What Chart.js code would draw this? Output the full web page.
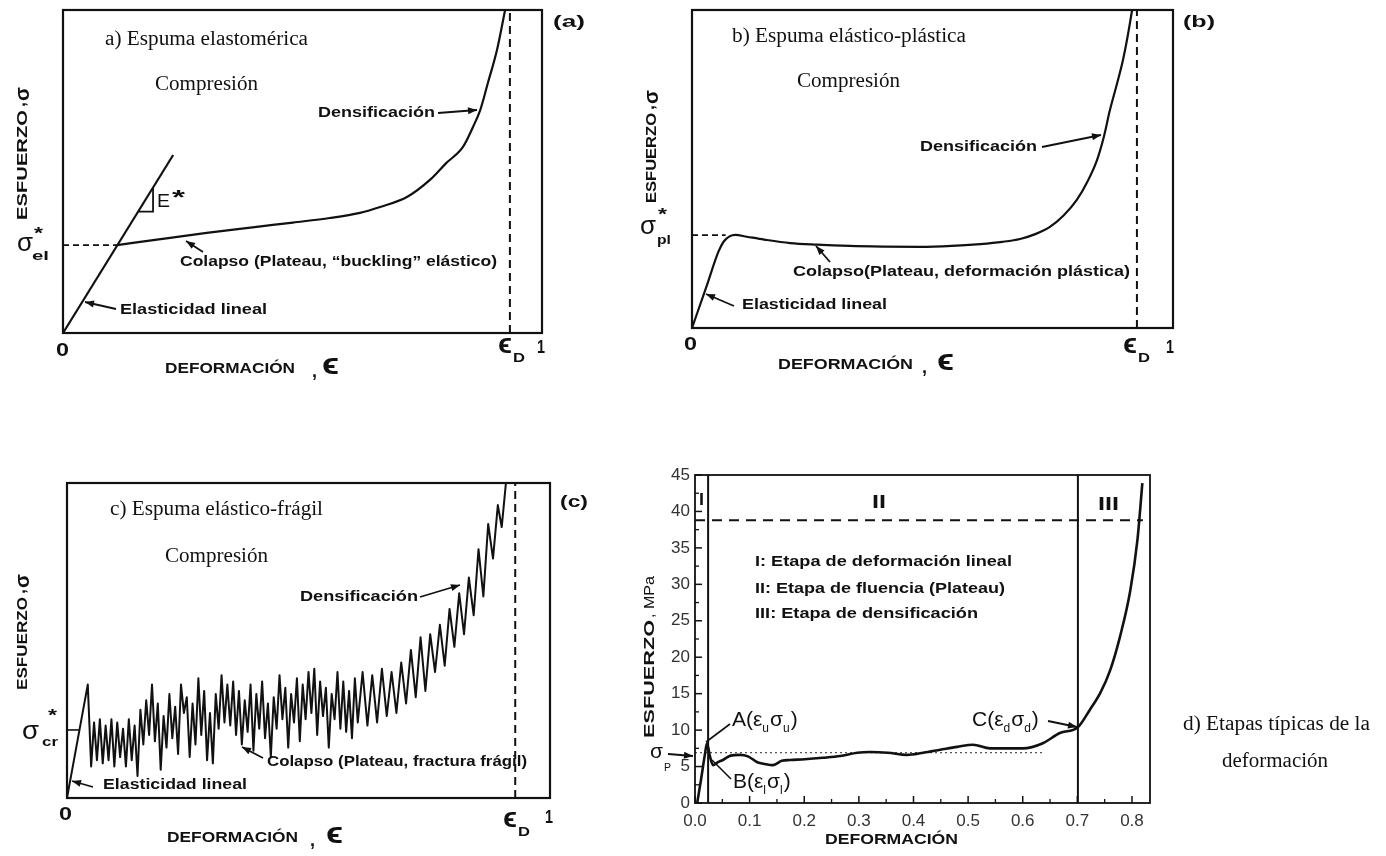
<!DOCTYPE html>
<html lang="es">
<head>
<meta charset="utf-8">
<title>Curvas esfuerzo-deformación de espumas</title>
<script src="https://cdn.jsdelivr.net/npm/chart.js@4.4.0/dist/chart.umd.min.js"></script>
<style>
    body { margin: 0; background: #fff; width: 1386px; height: 856px; position: relative; overflow: hidden; }
    canvas { position: absolute; }
</style>
</head>
<body>
<canvas id="graficoA" width="610" height="400" style="left:0;top:0"></canvas>
<canvas id="graficoB" width="620" height="400" style="left:620px;top:0"></canvas>
<canvas id="graficoC" width="610" height="426" style="left:0;top:430px"></canvas>
<canvas id="graficoD" width="766" height="416" style="left:620px;top:440px"></canvas>
<script>
// a) espuma elastomérica (ejes esquemáticos 0..1)
const aElasticaX = [0, 0.23];
const aElasticaY = [0, 0.551];
const aColapsoX = [0.113, 0.20, 0.30, 0.40, 0.48, 0.557, 0.62, 0.662, 0.718, 0.766, 0.80, 0.835, 0.856, 0.871, 0.887, 0.906, 0.923];
const aColapsoY = [0.272, 0.29, 0.31, 0.328, 0.342, 0.356, 0.372, 0.39, 0.421, 0.474, 0.526, 0.576, 0.638, 0.69, 0.774, 0.876, 1.0];
const aTrianguloX = [0.157, 0.188, 0.188];
const aTrianguloY = [0.376, 0.376, 0.45];
const aSigmaEl = 0.272;
const aEpsD = 0.933;

// b) espuma elástico-plástica
const bCurvaX = [0, 0.030, 0.055, 0.066, 0.078, 0.090, 0.114, 0.150, 0.204, 0.260, 0.328, 0.400, 0.474, 0.540, 0.599, 0.645, 0.682, 0.715, 0.744, 0.772, 0.800, 0.822, 0.842, 0.856, 0.869, 0.883, 0.896, 0.906, 0.915];
const bCurvaY = [0, 0.13, 0.24, 0.272, 0.288, 0.293, 0.287, 0.278, 0.267, 0.262, 0.258, 0.256, 0.255, 0.258, 0.264, 0.271, 0.280, 0.296, 0.318, 0.353, 0.403, 0.46, 0.528, 0.60, 0.686, 0.765, 0.843, 0.92, 1.0];
const bSigmaPl = 0.292;
const bFinDiscontinua = 0.07;
const bEpsD = 0.925;

// c) espuma elástico-frágil
const cCurvaX = [0, 0.043, 0.050, 0.056, 0.062, 0.068, 0.074, 0.080, 0.086, 0.092, 0.098, 0.104, 0.110, 0.116, 0.122, 0.128, 0.134, 0.140,
    0.146, 0.152, 0.158, 0.164, 0.170, 0.176, 0.182, 0.188, 0.194, 0.200, 0.206, 0.212, 0.218, 0.224, 0.230, 0.236, 0.242, 0.248,
    0.254, 0.260, 0.266, 0.272, 0.278, 0.284, 0.290, 0.296, 0.302, 0.308, 0.314, 0.320, 0.326, 0.332, 0.338, 0.344, 0.350, 0.356,
    0.362, 0.368, 0.374, 0.380, 0.386, 0.392, 0.398, 0.404, 0.410, 0.416, 0.422, 0.428, 0.434, 0.440, 0.446, 0.452, 0.458, 0.464,
    0.470, 0.476, 0.482, 0.488, 0.494, 0.500, 0.506, 0.512, 0.518, 0.524, 0.530, 0.536, 0.542, 0.548, 0.554, 0.560, 0.566, 0.572,
    0.578, 0.584, 0.590, 0.596, 0.602, 0.612, 0.622, 0.632, 0.642, 0.652, 0.662, 0.672, 0.682, 0.692, 0.702, 0.712, 0.722, 0.732,
    0.742, 0.752, 0.762, 0.772, 0.782, 0.792, 0.802, 0.812, 0.822, 0.832, 0.842, 0.852, 0.862, 0.872, 0.882, 0.892, 0.900, 0.910];
const cCurvaY = [0, 0.36, 0.10, 0.24, 0.12, 0.25, 0.11, 0.23, 0.12, 0.25, 0.10, 0.24, 0.13, 0.22, 0.10, 0.25, 0.12, 0.23,
    0.07, 0.28, 0.17, 0.31, 0.20, 0.36, 0.18, 0.30, 0.09, 0.26, 0.16, 0.33, 0.19, 0.29, 0.14, 0.36, 0.27, 0.32,
    0.13, 0.30, 0.17, 0.38, 0.20, 0.34, 0.12, 0.27, 0.11, 0.33, 0.22, 0.39, 0.24, 0.36, 0.23, 0.37, 0.20, 0.34,
    0.17, 0.31, 0.21, 0.36, 0.15, 0.33, 0.22, 0.37, 0.19, 0.30, 0.13, 0.32, 0.22, 0.39, 0.25, 0.35, 0.16, 0.33,
    0.24, 0.38, 0.18, 0.36, 0.25, 0.40, 0.27, 0.41, 0.20, 0.37, 0.26, 0.35, 0.16, 0.33, 0.25, 0.40, 0.22, 0.37,
    0.21, 0.34, 0.19, 0.38, 0.24, 0.40, 0.23, 0.39, 0.24, 0.41, 0.26, 0.40, 0.27, 0.43, 0.30, 0.47, 0.32, 0.51,
    0.34, 0.52, 0.40, 0.55, 0.42, 0.60, 0.48, 0.65, 0.52, 0.70, 0.58, 0.79, 0.64, 0.87, 0.76, 0.93, 0.86, 1.02];
const cSigmaCr = 0.216;
const cFinMarca = 0.027;
const cEpsD = 0.928;

// d) etapas típicas de la deformación (MPa)
const dDeformacion = [0.004, 0.011, 0.018, 0.022, 0.027, 0.033, 0.042, 0.051, 0.065, 0.082, 0.097, 0.114, 0.128, 0.143, 0.159, 0.174, 0.201, 0.234, 0.266, 0.297,
    0.32, 0.353, 0.388, 0.418, 0.449, 0.48, 0.509, 0.54, 0.568, 0.60, 0.637, 0.668, 0.701, 0.723, 0.742, 0.76, 0.778, 0.797, 0.81, 0.819];
const dEsfuerzo = [0, 3.2, 6.6, 8.2, 6.5, 5.2, 5.6, 5.9, 6.5, 6.6, 6.4, 5.6, 5.35, 5.2, 5.8, 5.9, 6.0, 6.2, 6.45, 6.9,
    7.0, 6.9, 6.6, 6.9, 7.3, 7.7, 8.0, 7.5, 7.5, 7.5, 8.2, 9.6, 10.4, 12.8, 15.1, 18.2, 22.8, 29.2, 36.1, 43.9];
const dLimitesEtapas = [0.024, 0.701];
const dEsfuerzoIII = 38.8;
const dFinDiscontinua = 0.82;
const dSigmaP = 6.9;
const dFinPunteada = 0.637;

const NEGRO = "#111";
const SERIF = '20px "Liberation Serif", "Times New Roman", serif';
const neg = t => `bold ${t}px "Liberation Sans", Arial, sans-serif`;
const sans = t => `${t}px "Liberation Sans", Arial, sans-serif`;

const puntos = (xs, ys) => xs.map((x, i) => ({ x: x, y: ys[i] }));

function serie(data, extra) {
    return Object.assign({
        data: data,
        showLine: true,
        pointRadius: 0,
        borderColor: NEGRO,
        borderWidth: 2.2,
        fill: false
    }, extra || {});
}

function texto(ctx, s, x, y, font, ancho, girado) {
    ctx.save();
    ctx.font = font;
    ctx.textBaseline = "middle";
    ctx.textAlign = "left";
    ctx.translate(x, y);
    if (girado) ctx.rotate(-Math.PI / 2);
    if (ancho) {
        const w = ctx.measureText(s).width;
        ctx.scale(ancho / w, 1);
    }
    ctx.fillText(s, 0, 0);
    ctx.restore();
}

function linea(ctx, x1, y1, x2, y2, grosor) {
    ctx.save();
    ctx.lineWidth = grosor || 1.8;
    ctx.beginPath();
    ctx.moveTo(x1, y1);
    ctx.lineTo(x2, y2);
    ctx.stroke();
    ctx.restore();
}

function flecha(ctx, x1, y1, x2, y2) {
    linea(ctx, x1, y1, x2, y2, 1.8);
    const a = Math.atan2(y2 - y1, x2 - x1);
    const l = 9, w = 3.5;
    ctx.beginPath();
    ctx.moveTo(x2, y2);
    ctx.lineTo(x2 - l * Math.cos(a) + w * Math.sin(a), y2 - l * Math.sin(a) - w * Math.cos(a));
    ctx.lineTo(x2 - l * Math.cos(a) - w * Math.sin(a), y2 - l * Math.sin(a) + w * Math.cos(a));
    ctx.closePath();
    ctx.fill();
}

// texto con subíndices: partes = [[texto, 0 normal | 1 subíndice]]
function conSub(ctx, partes, x, y, tam) {
    ctx.save();
    ctx.textBaseline = "middle";
    let cx = x;
    partes.forEach(([s, t]) => {
        ctx.font = sans(t ? Math.round(tam * 0.55) : tam);
        ctx.fillText(s, cx, t ? y + tam * 0.4 : y);
        cx += ctx.measureText(s).width + (t ? 1 : 0);
    });
    ctx.restore();
}

function notas(off, dibujar, grosorMarco) {
    return {
        id: "notas",
        afterDraw(chart) {
            const ctx = chart.ctx, ca = chart.chartArea;
            ctx.save();
            ctx.strokeStyle = NEGRO;
            ctx.fillStyle = NEGRO;
            ctx.lineWidth = grosorMarco || 2.2;
            ctx.strokeRect(ca.left, ca.top, ca.right - ca.left, ca.bottom - ca.top);
            ctx.translate(-off[0], -off[1]);
            dibujar(ctx, chart);
            ctx.restore();
        }
    };
}

function opcionesEsquema(padding) {
    return {
        responsive: false,
        animation: false,
        events: [],
        layout: { padding: padding },
        plugins: { legend: { display: false }, tooltip: { enabled: false } },
        scales: {
            x: { type: "linear", display: false, min: 0, max: 1 },
            y: { type: "linear", display: false, min: 0, max: 1 }
        }
    };
}

function ejeDeformacion(ctx, x, y, ancho, xComa, xEps) {
    texto(ctx, "DEFORMACIÓN", x, y, neg(14), ancho);
    texto(ctx, ",", xComa, y + 3, neg(18));
    texto(ctx, "ϵ", xEps, y - 3, neg(30), 17);
}

function epsilonD(ctx, x, y) {
    texto(ctx, "ϵ", x, y - 2, neg(28), 14);
    texto(ctx, "D", x + 15, y + 11, neg(13), 12);
}

function ejeEsfuerzo(ctx, x, yBase, largo) {
    texto(ctx, "ESFUERZO", x, yBase, neg(14), largo, true);
    texto(ctx, ",", x - 2, yBase - largo - 3, neg(16), 5, true);
    texto(ctx, "σ", x, yBase - largo - 9, neg(20), 14, true);
}

// ---------- a ----------
new Chart(document.getElementById("graficoA"), {
    type: "scatter",
    data: {
        datasets: [
            serie(puntos(aElasticaX, aElasticaY)),
            serie(puntos(aColapsoX, aColapsoY), { cubicInterpolationMode: "monotone" }),
            serie(puntos(aTrianguloX, aTrianguloY), { borderWidth: 1.8 }),
            serie([{ x: 0, y: aSigmaEl }, { x: aColapsoX[0], y: aSigmaEl }], { borderDash: [6, 4], borderWidth: 1.6 }),
            serie([{ x: aEpsD, y: 0 }, { x: aEpsD, y: 1 }], { borderDash: [8, 5], borderWidth: 2 })
        ]
    },
    options: opcionesEsquema({ left: 63, top: 10, right: 68, bottom: 67 }),
    plugins: [notas([0, 0], ctx => {
        texto(ctx, "a) Espuma elastomérica", 105, 40, SERIF, 203);
        texto(ctx, "Compresión", 155, 85, SERIF, 103);
        texto(ctx, "(a)", 553, 22, neg(17), 32);
        texto(ctx, "Densificación", 318, 113, neg(15), 117);
        flecha(ctx, 438, 113, 477, 110);
        texto(ctx, "Colapso (Plateau, “buckling” elástico)", 180, 262, neg(15), 317);
        flecha(ctx, 203, 252, 186, 241);
        texto(ctx, "Elasticidad lineal", 120, 310, neg(15), 147);
        flecha(ctx, 116, 309, 85, 302);
        texto(ctx, "E", 157, 202, sans(18), 13);
        texto(ctx, "*", 172, 198, neg(20), 13);
        texto(ctx, "σ", 17, 244, sans(26), 16);
        texto(ctx, "*", 34, 234, neg(17), 9);
        texto(ctx, "el", 32, 256, neg(13), 17);
        texto(ctx, "0", 56, 351, neg(18), 13);
        ejeDeformacion(ctx, 165, 369, 130, 312, 322);
        epsilonD(ctx, 498, 347);
        texto(ctx, "1", 537, 348, neg(18), 8);
        ejeEsfuerzo(ctx, 23, 220, 110);
    })]
});

// ---------- b ----------
new Chart(document.getElementById("graficoB"), {
    type: "scatter",
    data: {
        datasets: [
            serie(puntos(bCurvaX, bCurvaY), { cubicInterpolationMode: "monotone" }),
            serie([{ x: 0, y: bSigmaPl }, { x: bFinDiscontinua, y: bSigmaPl }], { borderDash: [6, 4], borderWidth: 1.6 }),
            serie([{ x: bEpsD, y: 0 }, { x: bEpsD, y: 1 }], { borderDash: [8, 5], borderWidth: 2 })
        ]
    },
    options: opcionesEsquema({ left: 72, top: 10, right: 67, bottom: 72 }),
    plugins: [notas([620, 0], ctx => {
        texto(ctx, "b) Espuma elástico-plástica", 732, 37, SERIF, 234);
        texto(ctx, "Compresión", 797, 82, SERIF, 103);
        texto(ctx, "(b)", 1183, 22, neg(17), 32);
        texto(ctx, "Densificación", 920, 147, neg(15), 117);
        flecha(ctx, 1042, 147, 1101, 135);
        texto(ctx, "Colapso(Plateau, deformación plástica)", 793, 272, neg(15), 337);
        flecha(ctx, 830, 262, 816, 246);
        texto(ctx, "Elasticidad lineal", 742, 305, neg(15), 145);
        flecha(ctx, 734, 306, 706, 294);
        texto(ctx, "σ", 640, 227, sans(26), 16);
        texto(ctx, "*", 658, 215, neg(17), 9);
        texto(ctx, "pl", 657, 240, neg(13), 14);
        texto(ctx, "0", 684, 345, neg(18), 13);
        ejeDeformacion(ctx, 778, 365, 135, 922, 937);
        epsilonD(ctx, 1123, 347);
        texto(ctx, "1", 1166, 348, neg(18), 8);
        ejeEsfuerzo(ctx, 652, 203, 90);
    })]
});

// ---------- c ----------
new Chart(document.getElementById("graficoC"), {
    type: "scatter",
    data: {
        datasets: [
            serie(puntos(cCurvaX, cCurvaY), { borderWidth: 2, borderJoinStyle: "round" }),
            serie([{ x: 0, y: cSigmaCr }, { x: cFinMarca, y: cSigmaCr }], { borderWidth: 1.6 }),
            serie([{ x: cEpsD, y: 0 }, { x: cEpsD, y: 1 }], { borderDash: [8, 5], borderWidth: 2 })
        ]
    },
    options: opcionesEsquema({ left: 67, top: 53, right: 60, bottom: 58 }),
    plugins: [notas([0, 430], ctx => {
        texto(ctx, "c) Espuma elástico-frágil", 110, 510, SERIF, 213);
        texto(ctx, "Compresión", 165, 557, SERIF, 103);
        texto(ctx, "(c)", 560, 502, neg(17), 28);
        texto(ctx, "Densificación", 300, 597, neg(15), 118);
        flecha(ctx, 420, 597, 460, 585);
        texto(ctx, "Colapso (Plateau, fractura frágil)", 267, 762, neg(15), 260);
        flecha(ctx, 263, 758, 242, 747);
        texto(ctx, "Elasticidad lineal", 103, 785, neg(15), 144);
        flecha(ctx, 93, 787, 72, 781);
        texto(ctx, "σ", 22, 732, sans(26), 17);
        texto(ctx, "*", 48, 716, neg(17), 9);
        texto(ctx, "cr", 42, 742, neg(13), 16);
        texto(ctx, "0", 59, 815, neg(18), 13);
        ejeDeformacion(ctx, 167, 838, 131, 310, 326);
        epsilonD(ctx, 503, 821);
        texto(ctx, "1", 545, 818, neg(18), 8);
        ejeEsfuerzo(ctx, 23, 690, 93);
    })]
});

// ---------- d ----------
new Chart(document.getElementById("graficoD"), {
    type: "scatter",
    data: {
        datasets: [
            serie(puntos(dDeformacion, dEsfuerzo), { borderWidth: 2.6, cubicInterpolationMode: "monotone" }),
            serie([{ x: dLimitesEtapas[0], y: 0 }, { x: dLimitesEtapas[0], y: 45 }], { borderWidth: 2 }),
            serie([{ x: dLimitesEtapas[1], y: 0 }, { x: dLimitesEtapas[1], y: 45 }], { borderWidth: 2 }),
            serie([{ x: 0, y: dEsfuerzoIII }, { x: dFinDiscontinua, y: dEsfuerzoIII }], { borderDash: [10, 7], borderWidth: 2 }),
            serie([{ x: 0, y: dSigmaP }, { x: dFinPunteada, y: dSigmaP }], { borderDash: [2, 3], borderWidth: 1.2, borderColor: "#555" })
        ]
    },
    options: {
        responsive: false,
        animation: false,
        events: [],
        layout: { padding: { left: 0, top: 35, right: 236, bottom: 0 } },
        plugins: { legend: { display: false }, tooltip: { enabled: false } },
        scales: {
            x: {
                type: "linear", min: 0, max: 0.833,
                grid: { display: false, drawTicks: false },
                border: { display: false },
                ticks: {
                    stepSize: 0.1, includeBounds: false, padding: 8, color: "#333",
                    font: { family: '"Liberation Sans", Arial, sans-serif', size: 17 },
                    callback: v => v.toFixed(1)
                },
                afterFit(s) { s.height = 53; }
            },
            y: {
                type: "linear", min: 0, max: 45,
                grid: { display: false, drawTicks: false },
                border: { display: false },
                ticks: {
                    stepSize: 5, includeBounds: false, padding: 5, color: "#333",
                    font: { family: '"Liberation Sans", Arial, sans-serif', size: 17 }
                },
                afterFit(s) { s.width = 75; }
            }
        }
    },
    plugins: [notas([620, 440], (ctx, chart) => {
        const ca = chart.chartArea, sx = chart.scales.x, sy = chart.scales.y;
        const off = [620, 440];
        // marcas hacia dentro (mayores y menores)
        const marcas = (esc, vertical) => {
            const vals = esc.ticks.map(t => t.value);
            vals.forEach((v, i) => {
                const p = esc.getPixelForValue(v);
                if (vertical) linea(ctx, ca.left + off[0], p + off[1], ca.left + off[0] + 7, p + off[1], 1.5);
                else linea(ctx, p + off[0], ca.bottom + off[1], p + off[0], ca.bottom + off[1] - 7, 1.5);
                if (i < vals.length - 1) {
                    const m = esc.getPixelForValue((v + vals[i + 1]) / 2);
                    if (vertical) linea(ctx, ca.left + off[0], m + off[1], ca.left + off[0] + 4, m + off[1], 1.3);
                    else linea(ctx, m + off[0], ca.bottom + off[1], m + off[0], ca.bottom + off[1] - 4, 1.3);
                }
            });
        };
        marcas(sy, true);
        marcas(sx, false);

        texto(ctx, "I", 699, 500, neg(17), 5);
        texto(ctx, "II", 872, 503, neg(19), 14);
        texto(ctx, "III", 1098, 505, neg(19), 21);
        texto(ctx, "I: Etapa de deformación lineal", 755, 562, neg(14), 257);
        texto(ctx, "II: Etapa de fluencia (Plateau)", 755, 589, neg(14), 250);
        texto(ctx, "III: Etapa de densificación", 755, 614, neg(14), 223);

        conSub(ctx, [["A(", 0], ["ε", 0], ["u", 1], ["σ", 0], ["u", 1], [")", 0]], 732, 720, 21);
        linea(ctx, 730, 724, 706, 742, 1.6);
        conSub(ctx, [["B(", 0], ["ε", 0], ["l", 1], ["σ", 0], ["l", 1], [")", 0]], 733, 782, 21);
        linea(ctx, 731, 779, 712, 760, 1.6);
        conSub(ctx, [["C(", 0], ["ε", 0], ["d", 1], ["σ", 0], ["d", 1], [")", 0]], 972, 720, 21);
        flecha(ctx, 1048, 721, 1077, 727);

        texto(ctx, "σ", 650, 752, sans(20), 13);
        texto(ctx, "P", 664, 768, sans(11), 7);
        flecha(ctx, 668, 754, 693, 756);

        texto(ctx, "ESFUERZO", 650, 738, neg(14), 118, true);
        texto(ctx, ", MPa", 650, 618, sans(15), 42, true);
        texto(ctx, "DEFORMACIÓN", 825, 840, neg(14), 133);

        texto(ctx, "d) Etapas típicas de la", 1183, 725, SERIF, 187);
        texto(ctx, "deformación", 1222, 762, SERIF, 106);
    }, 1.8)]
});
</script>
</body>
</html>
